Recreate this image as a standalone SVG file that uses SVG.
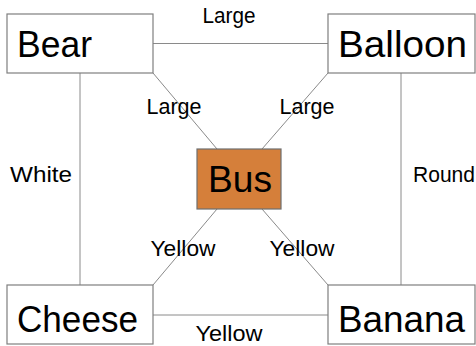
<svg xmlns="http://www.w3.org/2000/svg" width="476" height="346" viewBox="0 0 476 346">
  <style>
    .box { fill: #ffffff; stroke: #7f7f7f; stroke-width: 1.2; }
    .hub { fill: #d57f3a; stroke: #6f6f6f; stroke-width: 1.2; }
    .name { font-family: "Liberation Sans", Arial, sans-serif; font-size: 36px; fill: #000; }
    .edge { stroke: #8a8a8a; stroke-width: 1; fill: none; }
    .lbl { font-family: "Liberation Sans", Arial, sans-serif; font-size: 21.5px; fill: #000; text-anchor: middle; }
  </style>

  <!-- connectors, drawn beneath the nodes -->
  <g id="connectors">
    <line class="edge" x1="153" y1="43.5" x2="328" y2="43.5"/>
    <line class="edge" x1="80" y1="73" x2="80" y2="285"/>
    <line class="edge" x1="401" y1="73" x2="401" y2="285"/>
    <line class="edge" x1="153" y1="315" x2="328" y2="315"/>
    <line class="edge" x1="153" y1="73" x2="217" y2="149"/>
    <line class="edge" x1="328" y1="73" x2="262" y2="149"/>
    <line class="edge" x1="153" y1="285" x2="217" y2="209"/>
    <line class="edge" x1="328" y1="285" x2="262" y2="209"/>
    <text class="lbl" x="229" y="23" textLength="53" lengthAdjust="spacingAndGlyphs">Large</text>
    <text class="lbl" x="41" y="182" textLength="62" lengthAdjust="spacingAndGlyphs">White</text>
    <text class="lbl" x="444" y="182" textLength="62" lengthAdjust="spacingAndGlyphs">Round</text>
    <text class="lbl" x="174" y="114" textLength="55" lengthAdjust="spacingAndGlyphs">Large</text>
    <text class="lbl" x="307" y="114" textLength="55" lengthAdjust="spacingAndGlyphs">Large</text>
    <text class="lbl" x="183" y="256" textLength="65" lengthAdjust="spacingAndGlyphs">Yellow</text>
    <text class="lbl" x="302" y="256" textLength="65" lengthAdjust="spacingAndGlyphs">Yellow</text>
    <text class="lbl" x="229" y="341" textLength="67" lengthAdjust="spacingAndGlyphs">Yellow</text>
  </g>

  <g id="bear">
    <rect class="box" x="7" y="14" width="146" height="59"/>
    <text class="name" x="17" y="57" textLength="75" lengthAdjust="spacingAndGlyphs">Bear</text>
  </g>
  <g id="balloon">
    <rect class="box" x="328" y="14" width="147" height="59"/>
    <text class="name" x="338" y="57" textLength="129" lengthAdjust="spacingAndGlyphs">Balloon</text>
  </g>
  <g id="bus">
    <rect class="hub" x="197" y="149" width="84" height="60"/>
    <text class="name" x="208" y="192" textLength="64" lengthAdjust="spacingAndGlyphs">Bus</text>
  </g>
  <g id="cheese">
    <rect class="box" x="7" y="285" width="146" height="59"/>
    <text class="name" x="17" y="332" textLength="121" lengthAdjust="spacingAndGlyphs">Cheese</text>
  </g>
  <g id="banana">
    <rect class="box" x="328" y="285" width="147" height="59"/>
    <text class="name" x="338" y="332" textLength="127" lengthAdjust="spacingAndGlyphs">Banana</text>
  </g>
</svg>
